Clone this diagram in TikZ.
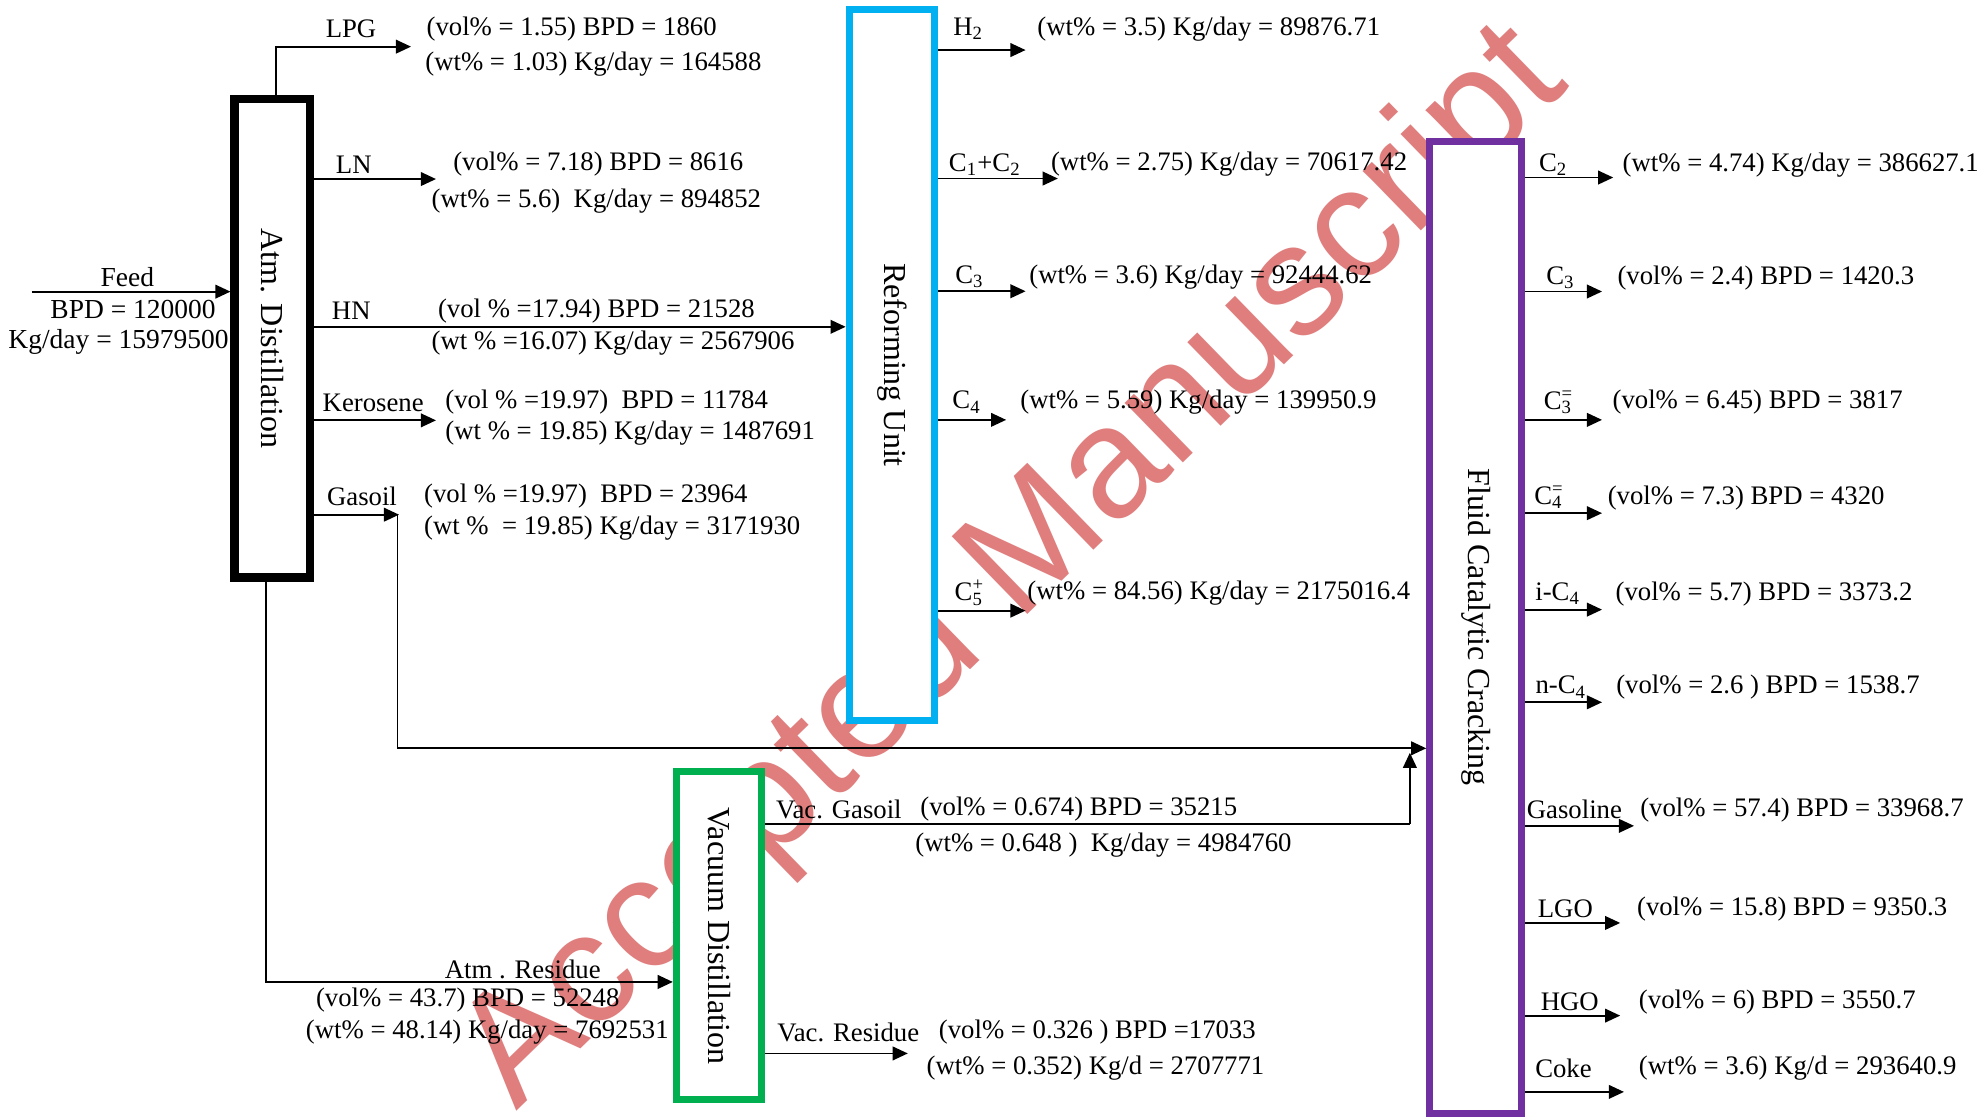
\documentclass[tikz,border=0pt]{standalone}
\usepackage{fontspec}
\setmainfont{Liberation Serif}
\newfontfamily\wmfont{Liberation Sans}
\usetikzlibrary{arrows.meta}
\definecolor{refblue}{HTML}{00B0F0}
\definecolor{fccpurple}{HTML}{7030A0}
\definecolor{vacgreen}{HTML}{00B050}
\definecolor{wmred}{HTML}{E07E7E}
\newcommand{\sbsp}[2]{\rlap{\textsuperscript{#2}}\textsubscript{#1}}
\begin{document}
\begin{tikzpicture}[x=0.5pt,y=-0.5pt,
  txt/.style={font=\fontsize{10.6}{12}\selectfont, inner sep=0pt, anchor=west},
  lbl/.style={font=\fontsize{10.6}{12}\selectfont, inner sep=0pt},
  feedtxt/.style={font=\fontsize{10.9}{13}\selectfont, inner sep=0pt},
  unitlab/.style={font=\fontsize{12.7}{14}\selectfont, inner sep=0pt, rotate=-90},
  unit/.style={draw, fill=white, line width=2.8pt, inner sep=0pt},
  flow/.style={line width=0.75pt, -{Triangle[length=6pt,width=5.4pt]}},
  pipe/.style={line width=0.75pt},
]
\useasboundingbox (0,0) rectangle (1568,888);
\fill[white] (0,0) rectangle (1568,888);
% watermark
\node[wmred, font=\wmfont\fontsize{62.5}{63}\selectfont, anchor=base west, rotate=44.2, inner sep=0pt] (wm) at (409,882) {Accepted Manuscript};

% units
\node[unit, draw=black, line width=3.2pt, minimum width=30pt, minimum height=189.75pt] (atm) at (216,268.25) {};
\node[unit, draw=refblue, minimum width=34pt, minimum height=282pt] (ref) at (707.5,289.5) {};
\node[unit, draw=fccpurple, minimum width=36.5pt, minimum height=385.5pt] (fcc) at (1170.5,497.5) {};
\node[unit, draw=vacgreen, minimum width=33.75pt, minimum height=130.15pt] (vac) at (570.2,742.2) {};
\node[unitlab] (atmlab) at (atm.center) {Atm. Distillation};
\node[unitlab] (reflab) at (ref.center) {Reforming Unit};
\node[unitlab] (fcclab) at (fcc.center) {Fluid Catalytic Cracking};
\node[unitlab] (vaclab) at (vac.center) {Vacuum Distillation};

% feed
\coordinate (feedstart) at (25,231.3);
\draw[flow] (feedstart) -- (atm.west |- feedstart);
\node[feedtxt] (feedlab) at (101,219.4) {Feed};
\node[feedtxt] (feedbpd) at (105.5,245.8) {BPD = 120000};
\node[feedtxt] (feedkg) at (94,271) {Kg/day = 15979500};

% atmospheric distillation products
\coordinate (lpgend) at (326,37);
\draw[flow] ([xshift=1.5pt]atm.north) |- (lpgend);
\node[lbl] (lpglab) at (278.4,22.5) {LPG};
\node[txt] (lpgv) at (338,22.7) {(vol\% = 1.55) BPD = 1860};
\node[txt] (lpgw) at (337,51) {(wt\% = 1.03) Kg/day = 164588};

\coordinate (lnend) at (345.8,142);
\draw[flow] (atm.east |- lnend) -- (lnend);
\node[lbl] (lnlab) at (280.6,130.8) {LN};
\node[txt] (lnv) at (359.1,130.3) {(vol\% = 7.18) BPD = 8616};
\node[txt] (lnw) at (342,159.7) {(wt\% = 5.6)~ Kg/day = 894852};

\coordinate (hn) at (0,259.2);
\draw[flow] (atm.east |- hn) -- (ref.west |- hn);
\node[lbl] (hnlab) at (278.6,246.6) {HN};
\node[txt] (hnv) at (347,246.4) {(vol \% =17.94) BPD = 21528};
\node[txt] (hnw) at (342,271.9) {(wt \% =16.07) Kg/day = 2567906};

\coordinate (kerend) at (345.8,333.4);
\draw[flow] (atm.east |- kerend) -- (kerend);
\node[lbl] (kerlab) at (296,319.5) {Kerosene};
\node[txt] (kerv) at (352.9,318.9) {(vol \% =19.97)~ BPD = 11784};
\node[txt] (kerw) at (352.9,343.8) {(wt \% = 19.85) Kg/day = 1487691};

\coordinate (gsbend) at (316.5,408.2);
\coordinate (fccin) at (0,593.5);
\draw[flow] (atm.east |- gsbend) -- (gsbend);
\draw[flow] ([xshift=-0.6pt]gsbend) |- (fcc.west |- fccin);
\node[lbl] (gslab) at (287.1,394) {Gasoil};
\node[txt] (gsv) at (336,393.7) {(vol \% =19.97)~ BPD = 23964};
\node[txt] (gsw) at (336,419.2) {(wt \%~ = 19.85) Kg/day = 3171930};

\coordinate (arx) at (211,778.8);
\draw[flow] (atm.south -| arx) -- (arx) -- (vac.west |- arx);
\node[lbl] (arlab) at (414.6,769.2) {Atm . Residue};
\node[lbl] (arv) at (371,793) {(vol\% = 43.7) BPD = 52248};
\node[lbl] (arw) at (386.5,818.5) {(wt\% = 48.14) Kg/day = 7692531};

% vacuum distillation products
\coordinate (vgx) at (1118.2,653.5);
\coordinate (vgtip) at (1118.2,597);
\draw[pipe] (vac.east |- vgx) -- (vgx);
\draw[flow] (vgx) -- (vgtip);
\node[txt] (vglab) at (615.2,641.8) {Vac. Gasoil};
\node[txt] (vgv) at (729.6,641.8) {(vol\% = 0.674) BPD = 35215};
\node[txt] (vgw) at (725.6,670.1) {(wt\% = 0.648 )~ Kg/day = 4984760};

\coordinate (vrend) at (720,835.5);
\draw[flow] (vac.east |- vrend) -- (vrend);
\node[txt] (vrlab) at (616.2,818.5) {Vac. Residue};
\node[txt] (vrv) at (744.3,818.5) {(vol\% = 0.326 ) BPD =17033};
\node[txt] (vrw) at (734.6,846.8) {(wt\% = 0.352) Kg/d = 2707771};

% reforming products
\coordinate (h2end) at (813.4,39.7);
\draw[flow] (ref.east |- h2end) -- (h2end);
\node[lbl] (h2lab) at (768,22.7) {H\textsubscript{2}};
\node[txt] (h2t) at (822.4,22.7) {(wt\% = 3.5) Kg/day = 89876.71};

\coordinate (c12end) at (839,141.6);
\draw[flow] (ref.east |- c12end) -- (c12end);
\node[txt] (c12lab) at (752.2,130.3) {C\textsubscript{1}+C\textsubscript{2}};
\node[txt] (c12t) at (833.2,130.3) {(wt\% = 2.75) Kg/day = 70617.42};

\coordinate (rc3end) at (813.4,231);
\draw[flow] (ref.east |- rc3end) -- (rc3end);
\node[lbl] (rc3lab) at (769,219.8) {C\textsubscript{3}};
\node[txt] (rc3t) at (816,219.8) {(wt\% = 3.6) Kg/day = 92444.62};

\coordinate (rc4end) at (798,333);
\draw[flow] (ref.east |- rc4end) -- (rc4end);
\node[lbl] (rc4lab) at (766.7,319) {C\textsubscript{4}};
\node[txt] (rc4t) at (808.9,319) {(wt\% = 5.59) Kg/day = 139950.9};

\coordinate (rc5end) at (813.4,484.3);
\draw[flow] (ref.east |- rc5end) -- (rc5end);
\node[lbl] (rc5lab) at (768.5,470.2) {C\sbsp{5}{+}};
\node[txt] (rc5t) at (814.5,470.2) {(wt\% = 84.56) Kg/day = 2175016.4};

% FCC products
\coordinate (fc2end) at (1279.5,140.8);
\draw[flow] (fcc.east |- fc2end) -- (fc2end);
\node[lbl] (fc2lab) at (1232,130.5) {C\textsubscript{2}};
\node[txt] (fc2t) at (1286.6,130.8) {(wt\% = 4.74) Kg/day = 386627.1};

\coordinate (fc3end) at (1270.6,231.2);
\draw[flow] (fcc.east |- fc3end) -- (fc3end);
\node[lbl] (fc3lab) at (1237.7,220.3) {C\textsubscript{3}};
\node[txt] (fc3t) at (1282.5,220.5) {(vol\% = 2.4) BPD = 1420.3};

\coordinate (fc3oend) at (1270.6,333);
\draw[flow] (fcc.east |- fc3oend) -- (fc3oend);
\node[txt] (fc3olab) at (1224,318.8) {C\sbsp{3}{=}};
\node[txt] (fc3ot) at (1278.6,318.6) {(vol\% = 6.45) BPD = 3817};

\coordinate (fc4oend) at (1270.6,407);
\draw[flow] (fcc.east |- fc4oend) -- (fc4oend);
\node[txt] (fc4olab) at (1216.5,394.6) {C\sbsp{4}{=}};
\node[txt] (fc4ot) at (1274.8,395) {(vol\% = 7.3) BPD = 4320};

\coordinate (fic4end) at (1270.6,483.5);
\draw[flow] (fcc.east |- fic4end) -- (fic4end);
\node[lbl] (fic4lab) at (1235.5,471) {i-C\textsubscript{4}};
\node[txt] (fic4t) at (1281,471.5) {(vol\% = 5.7) BPD = 3373.2};

\coordinate (fnc4end) at (1270.6,557);
\draw[flow] (fcc.east |- fnc4end) -- (fnc4end);
\node[lbl] (fnc4lab) at (1238,545) {n-C\textsubscript{4}};
\node[txt] (fnc4t) at (1281.5,545) {(vol\% = 2.6 ) BPD = 1538.7};

\coordinate (fgasend) at (1296,655);
\draw[flow] (fcc.east |- fgasend) -- (fgasend);
\node[lbl] (fgaslab) at (1248.7,642) {Gasoline};
\node[txt] (fgast) at (1300.5,642.5) {(vol\% = 57.4) BPD = 33968.7};

\coordinate (flgoend) at (1285,732);
\draw[flow] (fcc.east |- flgoend) -- (flgoend);
\node[lbl] (flgolab) at (1241.5,721) {LGO};
\node[txt] (flgot) at (1298,721) {(vol\% = 15.8) BPD = 9350.3};

\coordinate (fhgoend) at (1285,805.5);
\draw[flow] (fcc.east |- fhgoend) -- (fhgoend);
\node[lbl] (fhgolab) at (1245,794.5) {HGO};
\node[txt] (fhgot) at (1299.5,794.5) {(vol\% = 6) BPD = 3550.7};

\coordinate (fcokeend) at (1288,866);
\draw[flow] (fcc.east |- fcokeend) -- (fcokeend);
\node[lbl] (fcokelab) at (1240,847.5) {Coke};
\node[txt] (fcoket) at (1299.5,847.5) {(wt\% = 3.6) Kg/d = 293640.9};
\end{tikzpicture}
\end{document}
